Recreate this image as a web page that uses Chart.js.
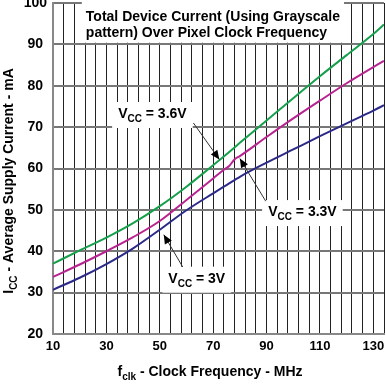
<!DOCTYPE html>
<html>
<head>
<meta charset="utf-8">
<script src="https://cdn.jsdelivr.net/npm/chart.js@4.4.0/dist/chart.umd.min.js"></script>
<style>
  body { margin: 0; background: #fff; }
  #wrap { width: 386px; height: 389px; position: relative; }
</style>
</head>
<body>
<div id="wrap"><canvas id="icc" width="386" height="389"></canvas></div>
<script>
// values
const freqMHz = [10, 20, 30, 40, 50, 60, 70, 74, 76, 78, 80, 90, 100, 110, 120, 130, 134];
const icc36V = [37.0, 40.2, 43.3, 46.8, 50.9, 55.6, 60.8, 62.9, 64.0, 65.1, 66.2, 71.6, 77.0, 82.3, 87.4, 92.5, 94.8];
const icc33V = [33.8, 36.8, 40.0, 43.4, 47.3, 52.4, 57.6, 59.7, 60.6, 62.2, 63.0, 67.6, 72.1, 76.4, 80.6, 84.5, 86.0];
const icc3V = [30.7, 33.6, 36.9, 40.7, 45.2, 49.9, 54.0, 55.6, 56.4, 57.2, 58.0, 61.4, 64.6, 67.8, 70.9, 74.0, 75.3];

const xLabelTicks = [10, 30, 50, 70, 90, 110, 130];
const titleLines = ['Total Device Current (Using Grayscale', 'pattern) Over Pixel Clock Frequency'];

const FONT = '"Liberation Sans", Arial, sans-serif';

const toPoints = (vals) => vals.map((v, i) => ({ x: freqMHz[i], y: v }));

// text with a subscript part, e.g. V + CC
function drawParts(ctx, parts, x, y, size) {
  let cx = x;
  parts.forEach(p => {
    const s = p.sub ? Math.round(size * 0.72) : size;
    ctx.font = 'bold ' + s + 'px ' + FONT;
    ctx.fillText(p.t, cx, p.sub ? y + size * 0.3 : y);
    cx += ctx.measureText(p.t).width;
  });
  return cx - x;
}
function partsWidth(ctx, parts, size) {
  let w = 0;
  parts.forEach(p => {
    const s = p.sub ? Math.round(size * 0.72) : size;
    ctx.font = 'bold ' + s + 'px ' + FONT;
    w += ctx.measureText(p.t).width;
  });
  return w;
}

// labels and arrows, placed in data units
const notes = [
  { parts: [{ t: 'V' }, { t: 'CC', sub: true }, { t: ' = 3.6V' }], at: [34.4, 72.2], from: [62.6, 71.0], to: [72.3, 62.2] },
  { parts: [{ t: 'V' }, { t: 'CC', sub: true }, { t: ' = 3.3V' }], at: [90.6, 48.5], from: [89.7, 52.1], to: [80.0, 62.4] },
  { parts: [{ t: 'V' }, { t: 'CC', sub: true }, { t: ' = 3V' }], at: [53.2, 32.4], from: [58.6, 36.2], to: [51.5, 44.0] }
];

function arrow(ctx, x1, y1, x2, y2) {
  ctx.strokeStyle = '#333';
  ctx.lineWidth = 1;
  ctx.beginPath();
  ctx.moveTo(x1, y1);
  ctx.lineTo(x2, y2);
  ctx.stroke();
  const a = Math.atan2(y2 - y1, x2 - x1);
  const len = 9, half = 4;
  ctx.fillStyle = '#000';
  ctx.beginPath();
  ctx.moveTo(x2, y2);
  ctx.lineTo(x2 - len * Math.cos(a) + half * Math.sin(a), y2 - len * Math.sin(a) - half * Math.cos(a));
  ctx.lineTo(x2 - len * Math.cos(a) - half * Math.sin(a), y2 - len * Math.sin(a) + half * Math.cos(a));
  ctx.closePath();
  ctx.fill();
}

const notesPlugin = {
  id: 'notes',
  beforeDatasetsDraw(chart) {
    const { ctx, scales: { x, y } } = chart;
    ctx.save();
    ctx.textBaseline = 'alphabetic';
    ctx.textAlign = 'left';

    // title box
    const tx = x.getPixelForValue(22.3);
    ctx.font = 'bold 14px ' + FONT;
    const tw = Math.max(...titleLines.map(l => ctx.measureText(l).width));
    ctx.fillStyle = '#fff';
    ctx.fillRect(tx - 4, 0, tw + 8, y.getPixelForValue(90.4));
    ctx.fillStyle = '#000';
    titleLines.forEach((l, i) => ctx.fillText(l, tx, y.getPixelForValue(96.7) + 4 + i * 16));

    // label boxes and text
    notes.forEach(n => {
      const px = x.getPixelForValue(n.at[0]);
      const py = y.getPixelForValue(n.at[1]);
      const w = partsWidth(ctx, n.parts, 14);
      ctx.fillStyle = '#fff';
      ctx.fillRect(px - 6, py - 16, w + 12, 26);
      ctx.fillStyle = '#000';
      drawParts(ctx, n.parts, px, py, 14);
    });
    ctx.restore();
  },
  afterDatasetsDraw(chart) {
    const { ctx, scales: { x, y } } = chart;
    ctx.save();
    notes.forEach(n => {
      arrow(ctx, x.getPixelForValue(n.from[0]), y.getPixelForValue(n.from[1]),
        x.getPixelForValue(n.to[0]), y.getPixelForValue(n.to[1]));
    });

    // axis titles with subscripts
    ctx.fillStyle = '#000';
    ctx.textBaseline = 'alphabetic';
    ctx.textAlign = 'left';
    const xt = [{ t: 'f' }, { t: 'clk', sub: true }, { t: ' - Clock Frequency - MHz' }];
    const xw = partsWidth(ctx, xt, 14);
    drawParts(ctx, xt, 210 - xw / 2, 376, 14);

    const yt = [{ t: 'I' }, { t: 'CC', sub: true }, { t: ' - Average Supply Current - mA' }];
    const yw = partsWidth(ctx, yt, 14);
    ctx.translate(13, 181);
    ctx.rotate(-Math.PI / 2);
    drawParts(ctx, yt, -yw / 2, 0, 14);
    ctx.restore();
  }
};

const lineSet = (label, vals, color) => ({
  label,
  data: toPoints(vals),
  borderColor: color,
  backgroundColor: color,
  borderWidth: 2,
  pointRadius: 0,
  cubicInterpolationMode: 'monotone',
  fill: false
});

new Chart(document.getElementById('icc'), {
  type: 'line',
  data: {
    datasets: [
      lineSet('VCC = 3.6V', icc36V, '#16a04c'),
      lineSet('VCC = 3.3V', icc33V, '#b8238f'),
      lineSet('VCC = 3V', icc3V, '#2c2a88')
    ]
  },
  options: {
    responsive: false,
    animation: false,
    layout: { padding: { top: 3, right: 2, left: 0, bottom: 0 } },
    plugins: {
      legend: { display: false },
      tooltip: { enabled: false }
    },
    scales: {
      x: {
        type: 'linear',
        min: 10,
        max: 134,
        afterFit: (s) => { s.height = 55; s.paddingLeft = 0; s.paddingRight = 0; },
        ticks: {
          stepSize: 4,
          autoSkip: false,
          maxRotation: 0,
          padding: 5,
          color: '#000',
          font: { family: FONT, size: 13, weight: 'bold' },
          callback: (v) => (xLabelTicks.includes(v) ? String(v) : '')
        },
        grid: { color: '#222', lineWidth: 1, drawTicks: false },
        border: { color: '#888', width: 2 }
      },
      y: {
        min: 20,
        max: 100,
        afterFit: (s) => { s.width = 53; s.paddingTop = 0; s.paddingBottom = 0; },
        ticks: {
          stepSize: 10,
          padding: 6,
          crossAlign: 'center',
          color: '#000',
          font: { family: FONT, size: 14, weight: 'bold' }
        },
        grid: { color: '#777', lineWidth: 2, drawTicks: false },
        border: { color: '#888', width: 2 }
      }
    }
  },
  plugins: [notesPlugin]
});
</script>
</body>
</html>
